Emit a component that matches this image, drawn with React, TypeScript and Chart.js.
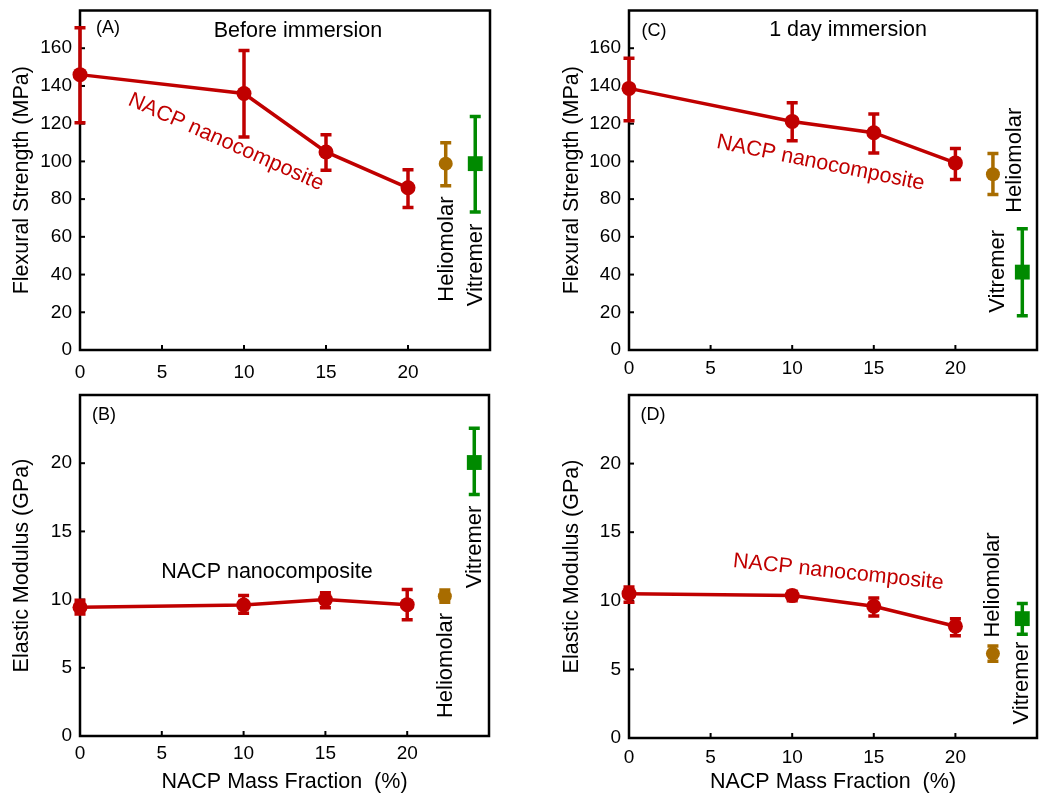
import React, { useEffect, useRef } from 'react';
import { Chart, registerables } from 'chart.js';

Chart.register(...registerables);

const FONT = '"Liberation Sans", Arial, Helvetica, sans-serif';
const RED = '#c00000';
const BROWN = '#a86c00';
const GREEN = '#008a00';

// ---------- data ----------
const massFraction = [0, 10, 15, 20];
const referenceX = [22.3, 24.1]; // Heliomolar, Vitremer positions on the x axis
const xTicks = [0, 5, 10, 15, 20];

// (A) Flexural strength before immersion (MPa)
const flexBefore = [146, 136, 105, 86];
const flexBeforeLow = [120.5, 112.9, 95.3, 75.5];
const flexBeforeHigh = [170.8, 158.8, 114.1, 95.6];
const flexBeforeHelio = [98.8, 87.1, 109.9];
const flexBeforeVit = [98.8, 73.2, 123.8];

// (C) Flexural strength after 1 day immersion (MPa)
const flexDay1 = [138.7, 121.2, 115.2, 99.2];
const flexDay1Low = [121.5, 110.9, 104.5, 90.4];
const flexDay1High = [154.7, 131.1, 125.1, 106.8];
const flexDay1Helio = [93.2, 82.4, 104.2];
const flexDay1Vit = [41.3, 18.2, 64.3];

// (B) Elastic modulus before immersion (GPa)
const modBefore = [9.44, 9.6, 10.0, 9.63];
const modBeforeLow = [8.95, 9.0, 9.4, 8.53];
const modBeforeHigh = [9.95, 10.3, 10.5, 10.74];
const modBeforeHelio = [10.25, 9.8, 10.7];
const modBeforeVit = [20.05, 17.7, 22.57];

// (D) Elastic modulus after 1 day immersion (GPa)
const modDay1 = [10.52, 10.38, 9.6, 8.14];
const modDay1Low = [9.9, 10.0, 8.9, 7.46];
const modDay1High = [11.0, 10.7, 10.2, 8.7];
const modDay1Helio = [6.15, 5.6, 6.7];
const modDay1Vit = [8.7, 7.56, 9.8];

const flexTicks = [0, 20, 40, 60, 80, 100, 120, 140, 160];
const modTicks = [0, 5, 10, 15, 20];

type Note = { text: string; x: number; y: number; rot: number; color: string; size: number };

type PanelCfg = {
  box: { x: number; y: number; w: number; h: number };
  area: { l: number; t: number; r: number; b: number };
  yMax: number;
  yTicks: number[];
  yTitle: string;
  xTitle?: string;
  xTickPad: number;
  nacp: number[];
  nacpLow: number[];
  nacpHigh: number[];
  helio: number[];
  vit: number[];
  notes: Note[];
};

const panels: PanelCfg[] = [
  {
    box: { x: 0, y: 0, w: 525, h: 380 },
    area: { l: 80, t: 7, r: 490, b: 350 },
    yMax: 180, yTicks: flexTicks,
    yTitle: 'Flexural Strength (MPa)',
    xTickPad: 11,
    nacp: flexBefore, nacpLow: flexBeforeLow, nacpHigh: flexBeforeHigh,
    helio: flexBeforeHelio, vit: flexBeforeVit,
    notes: [
      { text: '(A)', x: 1.71, y: 170.5, rot: 0, color: '#000', size: 18 },
      { text: 'Before immersion', x: 13.29, y: 169, rot: 0, color: '#000', size: 21.5 },
      { text: 'NACP nanocomposite', x: 8.9, y: 110.2, rot: 24, color: RED, size: 21.5 },
      { text: 'Heliomolar', x: 22.35, y: 53.5, rot: -90, color: '#000', size: 22 },
      { text: 'Vitremer', x: 24.15, y: 45.1, rot: -90, color: '#000', size: 22 },
    ],
  },
  {
    box: { x: 550, y: 0, w: 500, h: 380 },
    area: { l: 629, t: 9, r: 1037, b: 350 },
    yMax: 180, yTicks: flexTicks,
    yTitle: 'Flexural Strength (MPa)',
    xTickPad: 7,
    nacp: flexDay1, nacpLow: flexDay1Low, nacpHigh: flexDay1High,
    helio: flexDay1Helio, vit: flexDay1Vit,
    notes: [
      { text: '(C)', x: 1.53, y: 168.9, rot: 0, color: '#000', size: 18 },
      { text: '1 day immersion', x: 13.42, y: 169.4, rot: 0, color: '#000', size: 21.5 },
      { text: 'NACP nanocomposite', x: 11.74, y: 99.1, rot: 11.5, color: RED, size: 21.5 },
      { text: 'Heliomolar', x: 23.65, y: 100.6, rot: -90, color: '#000', size: 22 },
      { text: 'Vitremer', x: 22.59, y: 41.7, rot: -90, color: '#000', size: 22 },
    ],
  },
  {
    box: { x: 0, y: 380, w: 525, h: 424 },
    area: { l: 80, t: 395, r: 489, b: 736 },
    yMax: 25, yTicks: modTicks,
    yTitle: 'Elastic Modulus (GPa)',
    xTitle: 'NACP Mass Fraction  (%)',
    xTickPad: 6,
    nacp: modBefore, nacpLow: modBeforeLow, nacpHigh: modBeforeHigh,
    helio: modBeforeHelio, vit: modBeforeVit,
    notes: [
      { text: '(B)', x: 1.47, y: 23.5, rot: 0, color: '#000', size: 18 },
      { text: 'NACP nanocomposite', x: 11.43, y: 12.0, rot: 0, color: '#000', size: 21.5 },
      { text: 'Heliomolar', x: 22.37, y: 5.17, rot: -90, color: '#000', size: 22 },
      { text: 'Vitremer', x: 24.15, y: 13.86, rot: -90, color: '#000', size: 22 },
    ],
  },
  {
    box: { x: 550, y: 380, w: 500, h: 424 },
    area: { l: 629, t: 395, r: 1037, b: 738 },
    yMax: 25, yTicks: modTicks,
    yTitle: 'Elastic Modulus (GPa)',
    xTitle: 'NACP Mass Fraction  (%)',
    xTickPad: 8,
    nacp: modDay1, nacpLow: modDay1Low, nacpHigh: modDay1High,
    helio: modDay1Helio, vit: modDay1Vit,
    notes: [
      { text: '(D)', x: 1.47, y: 23.54, rot: 0, color: '#000', size: 18 },
      { text: 'NACP nanocomposite', x: 12.83, y: 12.08, rot: 6, color: RED, size: 21.5 },
      { text: 'Heliomolar', x: 22.3, y: 11.15, rot: -90, color: '#000', size: 22 },
      { text: 'Vitremer', x: 24.06, y: 4.0, rot: -90, color: '#000', size: 22 },
    ],
  },
];

function buildChart(canvas: HTMLCanvasElement, p: PanelCfg) {
  const yAxisW = p.area.l - p.box.x;
  const xAxisH = p.box.y + p.box.h - p.area.b;

  const framePlugin = {
    id: 'frameAndErrors',
    beforeDatasetsDraw(chart: any) {
      const { ctx, chartArea: a, scales } = chart;
      const xs = scales.x, ys = scales.y;
      ctx.save();
      ctx.strokeStyle = '#000';
      ctx.lineWidth = 2.5;
      ctx.strokeRect(a.left, a.top, a.right - a.left, a.bottom - a.top);
      ctx.lineWidth = 2;
      for (const t of xs.ticks) {
        const px = xs.getPixelForValue(t.value);
        ctx.beginPath();
        ctx.moveTo(px, a.bottom + 1);
        ctx.lineTo(px, a.bottom - 5);
        ctx.stroke();
      }
      for (const t of ys.ticks) {
        const py = ys.getPixelForValue(t.value);
        ctx.beginPath();
        ctx.moveTo(a.left - 1, py);
        ctx.lineTo(a.left + 5, py);
        ctx.stroke();
      }
      // error bars
      chart.data.datasets.forEach((ds: any) => {
        ctx.strokeStyle = ds.borderColor;
        ctx.lineWidth = 3.5;
        ds.data.forEach((pt: any, i: number) => {
          const px = xs.getPixelForValue(pt.x);
          const lo = ys.getPixelForValue(ds.errLow[i]);
          const hi = ys.getPixelForValue(ds.errHigh[i]);
          ctx.beginPath();
          ctx.moveTo(px, lo);
          ctx.lineTo(px, hi);
          ctx.moveTo(px - 5.5, lo);
          ctx.lineTo(px + 5.5, lo);
          ctx.moveTo(px - 5.5, hi);
          ctx.lineTo(px + 5.5, hi);
          ctx.stroke();
        });
      });
      ctx.restore();
    },
    afterDraw(chart: any) {
      const { ctx, scales } = chart;
      for (const n of p.notes) {
        ctx.save();
        ctx.translate(scales.x.getPixelForValue(n.x), scales.y.getPixelForValue(n.y));
        ctx.rotate((n.rot * Math.PI) / 180);
        ctx.font = `${n.size}px ${FONT}`;
        ctx.fillStyle = n.color;
        ctx.textAlign = 'center';
        ctx.textBaseline = 'middle';
        ctx.fillText(n.text, 0, 0);
        ctx.restore();
      }
    },
  };

  return new Chart(canvas, {
    type: 'scatter',
    data: {
      datasets: [
        {
          label: 'NACP nanocomposite',
          data: massFraction.map((x, i) => ({ x, y: p.nacp[i] })),
          errLow: p.nacpLow,
          errHigh: p.nacpHigh,
          showLine: true,
          borderColor: RED,
          backgroundColor: RED,
          borderWidth: 3.5,
          pointRadius: 7.5,
          pointBorderWidth: 0,
          pointStyle: 'circle',
          clip: false,
        } as any,
        {
          label: 'Heliomolar',
          data: [{ x: referenceX[0], y: p.helio[0] }],
          errLow: [p.helio[1]],
          errHigh: [p.helio[2]],
          borderColor: BROWN,
          backgroundColor: BROWN,
          pointRadius: 7,
          pointBorderWidth: 0,
          pointStyle: 'circle',
          clip: false,
        } as any,
        {
          label: 'Vitremer',
          data: [{ x: referenceX[1], y: p.vit[0] }],
          errLow: [p.vit[1]],
          errHigh: [p.vit[2]],
          borderColor: GREEN,
          backgroundColor: GREEN,
          pointRadius: 10.5,
          pointBorderWidth: 0,
          pointStyle: 'rect',
          clip: false,
        } as any,
      ],
    },
    options: {
      responsive: false,
      animation: false,
      events: [],
      layout: {
        padding: {
          left: 0,
          top: p.area.t - p.box.y,
          right: p.box.x + p.box.w - p.area.r,
          bottom: 0,
        },
      },
      plugins: { legend: { display: false }, tooltip: { enabled: false } },
      scales: {
        x: {
          type: 'linear',
          min: 0,
          max: 25,
          afterBuildTicks: (s: any) => {
            s.ticks = xTicks.map((v) => ({ value: v }));
          },
          ticks: {
            color: '#000',
            font: { family: FONT, size: 19 },
            padding: p.xTickPad,
            maxRotation: 0,
            autoSkip: false,
          },
          grid: { display: false, drawTicks: false },
          border: { display: false },
          title: {
            display: !!p.xTitle,
            text: p.xTitle || '',
            color: '#000',
            font: { family: FONT, size: 21.5 },
            padding: { top: 0, bottom: 9 },
          },
          afterFit: (s: any) => {
            s.height = xAxisH;
            s.paddingLeft = 0;
            s.paddingRight = 0;
            s.paddingTop = 0;
            s.paddingBottom = 0;
          },
        },
        y: {
          type: 'linear',
          min: 0,
          max: p.yMax,
          afterBuildTicks: (s: any) => {
            s.ticks = p.yTicks.map((v) => ({ value: v }));
          },
          ticks: {
            color: '#000',
            font: { family: FONT, size: 19 },
            padding: 8,
            autoSkip: false,
          },
          grid: { display: false, drawTicks: false },
          border: { display: false },
          title: {
            display: true,
            text: p.yTitle,
            color: '#000',
            font: { family: FONT, size: 21.5 },
            padding: { top: 9, bottom: 0 },
          },
          afterFit: (s: any) => {
            s.width = yAxisW;
            s.paddingLeft = 0;
            s.paddingRight = 0;
            s.paddingTop = 0;
            s.paddingBottom = 0;
          },
        },
      },
    } as any,
    plugins: [framePlugin],
  });
}

function PanelChart({ cfg }: { cfg: PanelCfg }) {
  const ref = useRef<HTMLCanvasElement>(null);
  useEffect(() => {
    if (!ref.current) return;
    const chart = buildChart(ref.current, cfg);
    return () => chart.destroy();
  }, [cfg]);
  return (
    <canvas
      ref={ref}
      width={cfg.box.w}
      height={cfg.box.h}
      style={{
        position: 'absolute',
        left: cfg.box.x,
        top: cfg.box.y,
        width: cfg.box.w,
        height: cfg.box.h,
      }}
    />
  );
}

export default function App() {
  return (
    <div
      style={{
        position: 'fixed',
        left: 0,
        top: 0,
        width: 1050,
        height: 804,
        background: '#fff',
        overflow: 'hidden',
      }}
    >
      {panels.map((p, i) => (
        <PanelChart key={i} cfg={p} />
      ))}
    </div>
  );
}
